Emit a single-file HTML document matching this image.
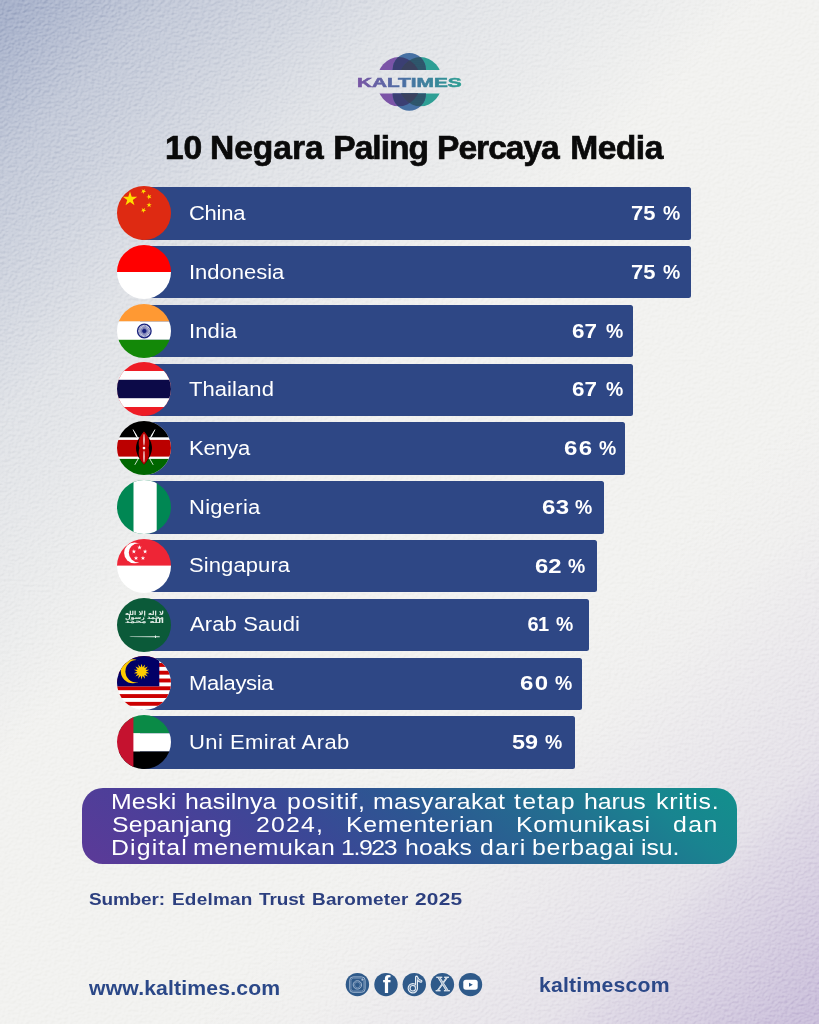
<!DOCTYPE html><html lang="id"><head><meta charset="utf-8"><title>10 Negara Paling Percaya Media</title><style>
html,body{margin:0;padding:0}
body{width:819px;height:1024px;position:relative;overflow:hidden;background:#f2f2f0;font-family:"Liberation Sans",sans-serif;}
#bg{position:absolute;left:0;top:0;width:819px;height:1024px;
 background:
  linear-gradient(135deg, rgba(168,178,203,1) 14px, rgba(168,178,203,.62) 120px, rgba(168,178,203,.56) 152px, rgba(168,178,203,.40) 226px, rgba(168,178,203,.24) 297px, rgba(168,178,203,.14) 396px, rgba(168,178,203,0) 540px),
  linear-gradient(315deg, rgba(203,192,219,1) 14px, rgba(203,192,219,.5) 158px, rgba(203,192,219,.35) 186px, rgba(203,192,219,.31) 200px, rgba(203,192,219,.05) 370px, rgba(203,192,219,0) 450px);
}
.bar{position:absolute;left:140px;height:52.4px;background:#2e4785;border-radius:2.5px;}
#note{position:absolute;left:82px;top:788px;width:655px;height:76.2px;border-radius:21px;
 background:linear-gradient(38deg,#5c3a98 0%,#4c3f99 18%,#3a4896 36%,#2d5692 52%,#246c90 70%,#198490 86%,#12908c 100%);}
svg{position:absolute;overflow:visible}
#title span{-webkit-text-stroke:.7px #0a0a0a}
h1,p,div{margin:0;padding:0;font-weight:normal;font-size:inherit}
</style></head><body>
<div id="bg"></div>
<svg id="tex" width="819" height="1024" style="left:0;top:0;mix-blend-mode:soft-light;opacity:.38" aria-hidden="true"><filter id="paper" x="0" y="0" width="100%" height="100%" color-interpolation-filters="sRGB"><feTurbulence type="fractalNoise" baseFrequency="0.3 0.36" numOctaves="3" seed="7" result="n"/><feDiffuseLighting in="n" lighting-color="#ffffff" surfaceScale="1.3" diffuseConstant="1"><feDistantLight azimuth="235" elevation="30"/></feDiffuseLighting></filter><rect width="819" height="1024" filter="url(#paper)"/></svg>
<svg style="left:340px;top:40px" width="140" height="85" viewBox="340 40 140 85"><defs><clipPath id="lgband"><rect x="340" y="40" width="140" height="30"/><rect x="340" y="93.4" width="140" height="32"/></clipPath><clipPath id="lgP"><ellipse cx="398.8" cy="81.7" rx="22" ry="24.6"/></clipPath><clipPath id="lgT"><ellipse cx="420.4" cy="81.7" rx="22" ry="24.6"/></clipPath><linearGradient id="lgG" x1="-35" y1="0" x2="35" y2="0" gradientUnits="userSpaceOnUse"><stop offset="0" stop-color="#7a55a5"/><stop offset=".45" stop-color="#4a6fa3"/><stop offset="1" stop-color="#2a9f92"/></linearGradient><pattern id="lgdots" x="0" y="0" width="2" height="2" patternUnits="userSpaceOnUse"><rect width="2" height="2" fill="#2b4a66"/><circle cx="1" cy="1" r=".45" fill="#3fae8f"/></pattern></defs><g clip-path="url(#lgband)"><ellipse cx="398.8" cy="81.7" rx="22" ry="24.6" fill="#7b54a7"/><ellipse cx="420.4" cy="81.7" rx="22" ry="24.6" fill="#2e9f95"/><g clip-path="url(#lgP)"><ellipse cx="420.4" cy="81.7" rx="22" ry="24.6" fill="#3c4263"/></g><rect x="392.6" y="52.9" width="33.4" height="57.8" rx="16.7" fill="#4670a3"/><g clip-path="url(#lgP)"><rect x="392.6" y="52.9" width="33.4" height="57.8" rx="16.7" fill="#3b3f73"/></g><g clip-path="url(#lgT)"><rect x="392.6" y="52.9" width="33.4" height="57.8" rx="16.7" fill="url(#lgdots)"/></g><g clip-path="url(#lgP)"><g clip-path="url(#lgT)"><rect x="392.6" y="52.9" width="33.4" height="57.8" rx="16.7" fill="#3a415e"/></g></g></g><text x="0" y="0" transform="translate(409.3 86.6) scale(1.53 1)" text-anchor="middle" font-family="Liberation Sans, sans-serif" font-weight="bold" font-size="13.6" fill="url(#lgG)" stroke="url(#lgG)" stroke-width=".55">KALTIMES</text></svg>
<h1 id="title"><span style="position:absolute;left:164.95px;top:127.76px;font-size:33.6px;line-height:40px;letter-spacing:-0.200px;white-space:pre;color:#0a0a0a;font-weight:bold;">10</span> <span style="position:absolute;left:209.95px;top:127.76px;font-size:33.6px;line-height:40px;letter-spacing:-0.020px;white-space:pre;color:#0a0a0a;font-weight:bold;">Negara</span> <span style="position:absolute;left:333.25px;top:127.76px;font-size:33.6px;line-height:40px;letter-spacing:-0.980px;white-space:pre;color:#0a0a0a;font-weight:bold;">Paling</span> <span style="position:absolute;left:437.05px;top:127.76px;font-size:33.6px;line-height:40px;letter-spacing:-1.017px;white-space:pre;color:#0a0a0a;font-weight:bold;">Percaya</span> <span style="position:absolute;left:570.15px;top:127.76px;font-size:33.6px;line-height:40px;letter-spacing:-0.475px;white-space:pre;color:#0a0a0a;font-weight:bold;">Media</span></h1>
<div class="bar" style="top:187.30px;width:551.0px"></div>
<div class="row"><span style="position:absolute;left:188.50px;top:201.27px;font-size:20px;line-height:24px;letter-spacing:-0.250px;white-space:pre;color:#ffffff;display:inline-block;transform:scaleX(1.100);transform-origin:0 50%;">China</span> <span style="position:absolute;left:631.10px;top:201.37px;font-size:20px;line-height:24px;letter-spacing:0.000px;white-space:pre;color:#ffffff;font-weight:bold;display:inline-block;transform:scaleX(1.100);transform-origin:0 50%;">75</span> <span style="position:absolute;left:663.31px;top:201.37px;font-size:20px;line-height:24px;letter-spacing:0.000px;white-space:pre;color:#ffffff;font-weight:bold;display:inline-block;transform:scaleX(0.970);transform-origin:0 50%;">%</span></div>
<div class="bar" style="top:246.08px;width:551.0px"></div>
<div class="row"><span style="position:absolute;left:188.80px;top:259.97px;font-size:20px;line-height:24px;letter-spacing:-0.011px;white-space:pre;color:#ffffff;display:inline-block;transform:scaleX(1.100);transform-origin:0 50%;">Indonesia</span> <span style="position:absolute;left:631.10px;top:260.07px;font-size:20px;line-height:24px;letter-spacing:0.000px;white-space:pre;color:#ffffff;font-weight:bold;display:inline-block;transform:scaleX(1.100);transform-origin:0 50%;">75</span> <span style="position:absolute;left:663.31px;top:260.07px;font-size:20px;line-height:24px;letter-spacing:0.000px;white-space:pre;color:#ffffff;font-weight:bold;display:inline-block;transform:scaleX(0.970);transform-origin:0 50%;">%</span></div>
<div class="bar" style="top:304.86px;width:492.8px"></div>
<div class="row"><span style="position:absolute;left:188.80px;top:318.67px;font-size:20px;line-height:24px;letter-spacing:0.091px;white-space:pre;color:#ffffff;display:inline-block;transform:scaleX(1.100);transform-origin:0 50%;">India</span> <span style="position:absolute;left:572.18px;top:318.77px;font-size:20px;line-height:24px;letter-spacing:0.000px;white-space:pre;color:#ffffff;font-weight:bold;display:inline-block;transform:scaleX(1.120);transform-origin:0 50%;">67</span> <span style="position:absolute;left:605.75px;top:318.77px;font-size:20px;line-height:24px;letter-spacing:0.000px;white-space:pre;color:#ffffff;font-weight:bold;display:inline-block;transform:scaleX(0.970);transform-origin:0 50%;">%</span></div>
<div class="bar" style="top:363.64px;width:492.8px"></div>
<div class="row"><span style="position:absolute;left:189.40px;top:377.37px;font-size:20px;line-height:24px;letter-spacing:0.065px;white-space:pre;color:#ffffff;display:inline-block;transform:scaleX(1.100);transform-origin:0 50%;">Thailand</span> <span style="position:absolute;left:572.18px;top:377.47px;font-size:20px;line-height:24px;letter-spacing:0.000px;white-space:pre;color:#ffffff;font-weight:bold;display:inline-block;transform:scaleX(1.120);transform-origin:0 50%;">67</span> <span style="position:absolute;left:605.75px;top:377.47px;font-size:20px;line-height:24px;letter-spacing:0.000px;white-space:pre;color:#ffffff;font-weight:bold;display:inline-block;transform:scaleX(0.970);transform-origin:0 50%;">%</span></div>
<div class="bar" style="top:422.42px;width:485.4px"></div>
<div class="row"><span style="position:absolute;left:188.80px;top:436.07px;font-size:20px;line-height:24px;letter-spacing:-0.250px;white-space:pre;color:#ffffff;display:inline-block;transform:scaleX(1.100);transform-origin:0 50%;">Kenya</span> <span style="position:absolute;left:564.20px;top:436.17px;font-size:20px;line-height:24px;letter-spacing:1.167px;white-space:pre;color:#ffffff;font-weight:bold;display:inline-block;transform:scaleX(1.200);transform-origin:0 50%;">66</span> <span style="position:absolute;left:598.50px;top:436.17px;font-size:20px;line-height:24px;letter-spacing:0.000px;white-space:pre;color:#ffffff;font-weight:bold;display:inline-block;transform:scaleX(0.970);transform-origin:0 50%;">%</span></div>
<div class="bar" style="top:481.20px;width:463.5px"></div>
<div class="row"><span style="position:absolute;left:188.80px;top:494.77px;font-size:20px;line-height:24px;letter-spacing:0.242px;white-space:pre;color:#ffffff;display:inline-block;transform:scaleX(1.100);transform-origin:0 50%;">Nigeria</span> <span style="position:absolute;left:541.80px;top:494.87px;font-size:20px;line-height:24px;letter-spacing:0.333px;white-space:pre;color:#ffffff;font-weight:bold;display:inline-block;transform:scaleX(1.200);transform-origin:0 50%;">63</span> <span style="position:absolute;left:575.46px;top:494.87px;font-size:20px;line-height:24px;letter-spacing:0.000px;white-space:pre;color:#ffffff;font-weight:bold;display:inline-block;transform:scaleX(0.970);transform-origin:0 50%;">%</span></div>
<div class="bar" style="top:539.98px;width:456.6px"></div>
<div class="row"><span style="position:absolute;left:188.50px;top:553.47px;font-size:20px;line-height:24px;letter-spacing:0.091px;white-space:pre;color:#ffffff;display:inline-block;transform:scaleX(1.100);transform-origin:0 50%;">Singapura</span> <span style="position:absolute;left:535.11px;top:553.57px;font-size:20px;line-height:24px;letter-spacing:0.000px;white-space:pre;color:#ffffff;font-weight:bold;display:inline-block;transform:scaleX(1.190);transform-origin:0 50%;">62</span> <span style="position:absolute;left:568.15px;top:553.57px;font-size:20px;line-height:24px;letter-spacing:0.000px;white-space:pre;color:#ffffff;font-weight:bold;display:inline-block;transform:scaleX(0.970);transform-origin:0 50%;">%</span></div>
<div class="bar" style="top:598.76px;width:449.0px"></div>
<div class="row"><span style="position:absolute;left:189.60px;top:612.17px;font-size:20px;line-height:24px;letter-spacing:0.111px;white-space:pre;color:#ffffff;display:inline-block;transform:scaleX(1.100);transform-origin:0 50%;">Arab Saudi</span> <span style="position:absolute;left:527.40px;top:612.27px;font-size:20px;line-height:24px;letter-spacing:-0.600px;white-space:pre;color:#ffffff;font-weight:bold;">61</span> <span style="position:absolute;left:556.46px;top:612.27px;font-size:20px;line-height:24px;letter-spacing:0.000px;white-space:pre;color:#ffffff;font-weight:bold;display:inline-block;transform:scaleX(0.970);transform-origin:0 50%;">%</span></div>
<div class="bar" style="top:657.54px;width:441.9px"></div>
<div class="row"><span style="position:absolute;left:188.80px;top:670.87px;font-size:20px;line-height:24px;letter-spacing:-0.286px;white-space:pre;color:#ffffff;display:inline-block;transform:scaleX(1.100);transform-origin:0 50%;">Malaysia</span> <span style="position:absolute;left:519.60px;top:670.97px;font-size:20px;line-height:24px;letter-spacing:1.167px;white-space:pre;color:#ffffff;font-weight:bold;display:inline-block;transform:scaleX(1.200);transform-origin:0 50%;">60</span> <span style="position:absolute;left:555.25px;top:670.97px;font-size:20px;line-height:24px;letter-spacing:0.000px;white-space:pre;color:#ffffff;font-weight:bold;display:inline-block;transform:scaleX(0.970);transform-origin:0 50%;">%</span></div>
<div class="bar" style="top:716.32px;width:434.9px"></div>
<div class="row"><span style="position:absolute;left:188.80px;top:729.57px;font-size:20px;line-height:24px;letter-spacing:0.409px;white-space:pre;color:#ffffff;display:inline-block;transform:scaleX(1.100);transform-origin:0 50%;">Uni Emirat Arab</span> <span style="position:absolute;left:512.23px;top:729.67px;font-size:20px;line-height:24px;letter-spacing:0.000px;white-space:pre;color:#ffffff;font-weight:bold;display:inline-block;transform:scaleX(1.170);transform-origin:0 50%;">59</span> <span style="position:absolute;left:545.46px;top:729.67px;font-size:20px;line-height:24px;letter-spacing:0.000px;white-space:pre;color:#ffffff;font-weight:bold;display:inline-block;transform:scaleX(0.970);transform-origin:0 50%;">%</span></div>
<svg style="left:117.00px;top:185.90px" width="54.0" height="54.0" viewBox="-27 -27 54 54"><defs><clipPath id="c0"><circle cx="0" cy="0" r="27"/></clipPath></defs><g clip-path="url(#c0)"><rect x="-27" y="-27" width="54" height="54" fill="#de2a12"/><polygon points="-14.00,-21.60 -12.29,-16.35 -6.77,-16.35 -11.24,-13.10 -9.53,-7.85 -14.00,-11.10 -18.47,-7.85 -16.76,-13.10 -21.23,-16.35 -15.71,-16.35" fill="#ffde00"/><polygon points="0.90,-24.12 0.48,-22.14 2.24,-21.12 0.22,-20.91 -0.21,-18.92 -1.03,-20.77 -3.06,-20.56 -1.55,-21.92 -2.37,-23.78 -0.61,-22.76" fill="#ffde00"/><polygon points="7.24,-18.10 6.17,-16.37 7.47,-14.82 5.50,-15.31 4.42,-13.58 4.28,-15.61 2.31,-16.10 4.19,-16.87 4.05,-18.90 5.36,-17.34" fill="#ffde00"/><polygon points="5.10,-10.80 5.73,-8.87 7.76,-8.87 6.12,-7.67 6.75,-5.73 5.10,-6.93 3.45,-5.73 4.08,-7.67 2.44,-8.87 4.47,-8.87" fill="#ffde00"/><polygon points="0.90,-5.22 0.48,-3.24 2.24,-2.22 0.22,-2.01 -0.21,-0.02 -1.03,-1.87 -3.06,-1.66 -1.55,-3.02 -2.37,-4.88 -0.61,-3.86" fill="#ffde00"/></g></svg>
<svg style="left:117.00px;top:244.70px" width="54.0" height="54.0" viewBox="-27 -27 54 54"><defs><clipPath id="c1"><circle cx="0" cy="0" r="27"/></clipPath></defs><g clip-path="url(#c1)"><rect x="-27" y="-27" width="54" height="27" fill="#ff0000"/><rect x="-27" y="0" width="54" height="27" fill="#ffffff"/></g></svg>
<svg style="left:117.00px;top:303.50px" width="54.0" height="54.0" viewBox="-27 -27 54 54"><defs><clipPath id="c2"><circle cx="0" cy="0" r="27"/></clipPath></defs><g clip-path="url(#c2)"><rect x="-27" y="-27" width="54" height="17.5" fill="#ff9933"/><rect x="-27" y="-9.5" width="54" height="18.3" fill="#ffffff"/><rect x="-27" y="8.8" width="54" height="18.2" fill="#138808"/><circle cx="0.3" cy="0" r="6.8" fill="none" stroke="#1a237e" stroke-width="1.3"/><circle cx="0.3" cy="0" r="2" fill="#1a237e"/><line x1="-6.20" y1="-0.00" x2="6.80" y2="0.00" stroke="#1a237e" stroke-width=".55"/><line x1="-5.98" y1="-1.68" x2="6.58" y2="1.68" stroke="#1a237e" stroke-width=".55"/><line x1="-5.33" y1="-3.25" x2="5.93" y2="3.25" stroke="#1a237e" stroke-width=".55"/><line x1="-4.30" y1="-4.60" x2="4.90" y2="4.60" stroke="#1a237e" stroke-width=".55"/><line x1="-2.95" y1="-5.63" x2="3.55" y2="5.63" stroke="#1a237e" stroke-width=".55"/><line x1="-1.38" y1="-6.28" x2="1.98" y2="6.28" stroke="#1a237e" stroke-width=".55"/><line x1="0.30" y1="-6.50" x2="0.30" y2="6.50" stroke="#1a237e" stroke-width=".55"/><line x1="1.98" y1="-6.28" x2="-1.38" y2="6.28" stroke="#1a237e" stroke-width=".55"/><line x1="3.55" y1="-5.63" x2="-2.95" y2="5.63" stroke="#1a237e" stroke-width=".55"/><line x1="4.90" y1="-4.60" x2="-4.30" y2="4.60" stroke="#1a237e" stroke-width=".55"/><line x1="5.93" y1="-3.25" x2="-5.33" y2="3.25" stroke="#1a237e" stroke-width=".55"/><line x1="6.58" y1="-1.68" x2="-5.98" y2="1.68" stroke="#1a237e" stroke-width=".55"/></g></svg>
<svg style="left:117.00px;top:362.30px" width="54.0" height="54.0" viewBox="-27 -27 54 54"><defs><clipPath id="c3"><circle cx="0" cy="0" r="27"/></clipPath></defs><g clip-path="url(#c3)"><rect x="-27" y="-27" width="54" height="54" fill="#ee1c25"/><rect x="-27" y="-18" width="54" height="36" fill="#ffffff"/><rect x="-27" y="-9.2" width="54" height="18.4" fill="#0c0a48"/></g></svg>
<svg style="left:117.00px;top:421.10px" width="54.0" height="54.0" viewBox="-27 -27 54 54"><defs><clipPath id="c4"><circle cx="0" cy="0" r="27"/></clipPath></defs><g clip-path="url(#c4)"><rect x="-27" y="-27" width="54" height="54" fill="#ffffff"/><rect x="-27" y="-27" width="54" height="16.3" fill="#000000"/><rect x="-27" y="-8.1" width="54" height="16.7" fill="#bb0000"/><rect x="-27" y="10.9" width="54" height="17" fill="#006600"/><line x1="-11" y1="-18.4" x2="9.2" y2="16.8" stroke="#ffffff" stroke-width=".8"/><line x1="11" y1="-18.4" x2="-9.2" y2="16.8" stroke="#ffffff" stroke-width=".8"/><path d="M-11.3,-18.9 L-6.6,-11.8 L-7.8,-11.1 Z" fill="#fff"/><path d="M11.3,-18.9 L6.6,-11.8 L7.8,-11.1 Z" fill="#fff"/><path d="M0,-16.5 C5.5,-11 8,-4.5 8,0 C8,4.5 5.5,11 0,16.5 C-5.5,11 -8,4.5 -8,0 C-8,-4.5 -5.5,-11 0,-16.5Z" fill="#000000"/><path d="M0,-16.5 C6.5,-10 5.6,-4 4.6,0 C5.6,4 6.5,10 0,16.5 C-6.5,10 -5.6,4 -4.6,0 C-5.6,-4 -6.5,-10 0,-16.5Z" fill="#bb0000"/><circle cx="0" cy="0.1" r="1.35" fill="#fff"/><ellipse cx="0" cy="-8.3" rx=".75" ry="6" fill="#fff" opacity=".85"/><ellipse cx="0" cy="8.5" rx=".75" ry="6" fill="#fff" opacity=".85"/></g></svg>
<svg style="left:117.00px;top:479.90px" width="54.0" height="54.0" viewBox="-27 -27 54 54"><defs><clipPath id="c5"><circle cx="0" cy="0" r="27"/></clipPath></defs><g clip-path="url(#c5)"><rect x="-27" y="-27" width="54" height="54" fill="#008753"/><rect x="-10.5" y="-27" width="23.2" height="54" fill="#ffffff"/></g></svg>
<svg style="left:117.00px;top:538.70px" width="54.0" height="54.0" viewBox="-27 -27 54 54"><defs><clipPath id="c6"><circle cx="0" cy="0" r="27"/></clipPath></defs><g clip-path="url(#c6)"><rect x="-27" y="-27" width="54" height="27" fill="#ee2536"/><rect x="-27" y="-0.4" width="54" height="27.4" fill="#ffffff"/><circle cx="-9.5" cy="-13.2" r="10.4" fill="#fff"/><circle cx="-5.6" cy="-13.2" r="9.6" fill="#ee2536"/><polygon points="-4.50,-20.90 -3.96,-19.24 -2.22,-19.24 -3.63,-18.22 -3.09,-16.56 -4.50,-17.58 -5.91,-16.56 -5.37,-18.22 -6.78,-19.24 -5.04,-19.24" fill="#fff"/><polygon points="1.11,-16.82 1.65,-15.16 3.39,-15.16 1.98,-14.14 2.52,-12.48 1.11,-13.51 -0.30,-12.48 0.24,-14.14 -1.17,-15.16 0.57,-15.16" fill="#fff"/><polygon points="-1.03,-10.23 -0.49,-8.57 1.25,-8.57 -0.16,-7.54 0.38,-5.89 -1.03,-6.91 -2.44,-5.89 -1.90,-7.54 -3.31,-8.57 -1.57,-8.57" fill="#fff"/><polygon points="-7.97,-10.23 -7.43,-8.57 -5.69,-8.57 -7.10,-7.54 -6.56,-5.89 -7.97,-6.91 -9.38,-5.89 -8.84,-7.54 -10.25,-8.57 -8.51,-8.57" fill="#fff"/><polygon points="-10.11,-16.82 -9.57,-15.16 -7.83,-15.16 -9.24,-14.14 -8.70,-12.48 -10.11,-13.51 -11.52,-12.48 -10.98,-14.14 -12.39,-15.16 -10.65,-15.16" fill="#fff"/></g></svg>
<svg style="left:117.00px;top:597.50px" width="54.0" height="54.0" viewBox="-27 -27 54 54"><defs><clipPath id="c7"><circle cx="0" cy="0" r="27"/></clipPath></defs><g clip-path="url(#c7)"><rect x="-27" y="-27" width="54" height="54" fill="#0b5a39"/><text x="0.4" y="-9.6" font-family="DejaVu Sans, sans-serif" font-size="5.6" font-weight="bold" fill="#e6efe9" text-anchor="middle" textLength="39" lengthAdjust="spacingAndGlyphs">لا إله إلا الله</text><text x="0.4" y="-5.6" font-family="DejaVu Sans, sans-serif" font-size="5.6" font-weight="bold" fill="#e6efe9" text-anchor="middle" textLength="39" lengthAdjust="spacingAndGlyphs">محمد رسول</text><text x="0.4" y="-1.6" font-family="DejaVu Sans, sans-serif" font-size="5.6" font-weight="bold" fill="#e6efe9" text-anchor="middle" textLength="39" lengthAdjust="spacingAndGlyphs">الله محمد</text><path d="M-14.9,11.4 L11,11.3 L11,10.6 L12,10.6 L12,11.2 L15.7,11.2 L15.7,12.2 L12,12.2 L12,12.9 L11,12.9 L11,12.2 L-13,12.1 Z" fill="#e6efe9"/></g></svg>
<svg style="left:117.00px;top:656.30px" width="54.0" height="54.0" viewBox="-27 -27 54 54"><defs><clipPath id="c8"><circle cx="0" cy="0" r="27"/></clipPath></defs><g clip-path="url(#c8)"><rect x="-27" y="-28" width="54" height="56" fill="#ffffff"/><rect x="-27" y="-27.80" width="54" height="3.89" fill="#cc0001"/><rect x="-27" y="-20.02" width="54" height="3.89" fill="#cc0001"/><rect x="-27" y="-12.24" width="54" height="3.89" fill="#cc0001"/><rect x="-27" y="-4.46" width="54" height="3.89" fill="#cc0001"/><rect x="-27" y="3.32" width="54" height="3.89" fill="#cc0001"/><rect x="-27" y="11.10" width="54" height="3.89" fill="#cc0001"/><rect x="-27" y="18.88" width="54" height="3.89" fill="#cc0001"/><rect x="-27" y="-28" width="42.3" height="31.32" fill="#010066"/><circle cx="-11.2" cy="-11.7" r="12" fill="#ffcc00"/><circle cx="-7.4" cy="-11.7" r="11.2" fill="#010066"/><polygon points="-2.40,-19.35 -1.42,-15.74 1.03,-18.57 0.34,-14.89 3.78,-16.38 1.56,-13.36 5.30,-13.21 2.00,-11.45 5.30,-9.69 1.56,-9.54 3.78,-6.52 0.34,-8.01 1.03,-4.33 -1.42,-7.16 -2.40,-3.55 -3.38,-7.16 -5.83,-4.33 -5.14,-8.01 -8.58,-6.52 -6.36,-9.54 -10.10,-9.69 -6.80,-11.45 -10.10,-13.21 -6.36,-13.36 -8.58,-16.38 -5.14,-14.89 -5.83,-18.57 -3.38,-15.74" fill="#ffcc00"/></g></svg>
<svg style="left:117.00px;top:715.10px" width="54.0" height="54.0" viewBox="-27 -27 54 54"><defs><clipPath id="c9"><circle cx="0" cy="0" r="27"/></clipPath></defs><g clip-path="url(#c9)"><rect x="-27" y="-27" width="54" height="18.3" fill="#0a8a46"/><rect x="-27" y="-8.7" width="54" height="18.2" fill="#ffffff"/><rect x="-27" y="9.5" width="54" height="17.5" fill="#000000"/><rect x="-27" y="-27" width="16.4" height="54" fill="#c5122f"/></g></svg>
<div id="note"></div>
<p id="notetxt"><span style="position:absolute;left:110.94px;top:789.18px;font-size:22px;line-height:26px;letter-spacing:0.106px;white-space:pre;color:#ffffff;display:inline-block;transform:scaleX(1.130);transform-origin:0 50%;">Meski</span> <span style="position:absolute;left:184.67px;top:789.18px;font-size:22px;line-height:26px;letter-spacing:0.013px;white-space:pre;color:#ffffff;display:inline-block;transform:scaleX(1.130);transform-origin:0 50%;">hasilnya</span> <span style="position:absolute;left:287.07px;top:789.18px;font-size:22px;line-height:26px;letter-spacing:0.780px;white-space:pre;color:#ffffff;display:inline-block;transform:scaleX(1.130);transform-origin:0 50%;">positif,</span> <span style="position:absolute;left:373.27px;top:789.18px;font-size:22px;line-height:26px;letter-spacing:0.328px;white-space:pre;color:#ffffff;display:inline-block;transform:scaleX(1.130);transform-origin:0 50%;">masyarakat</span> <span style="position:absolute;left:514.40px;top:789.18px;font-size:22px;line-height:26px;letter-spacing:1.142px;white-space:pre;color:#ffffff;display:inline-block;transform:scaleX(1.130);transform-origin:0 50%;">tetap</span> <span style="position:absolute;left:584.37px;top:789.18px;font-size:22px;line-height:26px;letter-spacing:-0.086px;white-space:pre;color:#ffffff;display:inline-block;transform:scaleX(1.130);transform-origin:0 50%;">harus</span> <span style="position:absolute;left:655.57px;top:789.18px;font-size:22px;line-height:26px;letter-spacing:0.673px;white-space:pre;color:#ffffff;display:inline-block;transform:scaleX(1.130);transform-origin:0 50%;">kritis.</span>
<span style="position:absolute;left:112.07px;top:811.88px;font-size:22px;line-height:26px;letter-spacing:0.112px;white-space:pre;color:#ffffff;display:inline-block;transform:scaleX(1.130);transform-origin:0 50%;">Sepanjang</span> <span style="position:absolute;left:256.47px;top:811.88px;font-size:22px;line-height:26px;letter-spacing:1.027px;white-space:pre;color:#ffffff;display:inline-block;transform:scaleX(1.130);transform-origin:0 50%;">2024,</span> <span style="position:absolute;left:346.24px;top:811.88px;font-size:22px;line-height:26px;letter-spacing:0.564px;white-space:pre;color:#ffffff;display:inline-block;transform:scaleX(1.130);transform-origin:0 50%;">Kementerian</span> <span style="position:absolute;left:516.14px;top:811.88px;font-size:22px;line-height:26px;letter-spacing:0.541px;white-space:pre;color:#ffffff;display:inline-block;transform:scaleX(1.130);transform-origin:0 50%;">Komunikasi</span> <span style="position:absolute;left:673.37px;top:811.88px;font-size:22px;line-height:26px;letter-spacing:1.230px;white-space:pre;color:#ffffff;display:inline-block;transform:scaleX(1.130);transform-origin:0 50%;">dan</span>
<span style="position:absolute;left:110.94px;top:834.68px;font-size:22px;line-height:26px;letter-spacing:0.997px;white-space:pre;color:#ffffff;display:inline-block;transform:scaleX(1.130);transform-origin:0 50%;">Digital</span> <span style="position:absolute;left:192.77px;top:834.68px;font-size:22px;line-height:26px;letter-spacing:0.545px;white-space:pre;color:#ffffff;display:inline-block;transform:scaleX(1.130);transform-origin:0 50%;">menemukan</span> <span style="position:absolute;left:341.34px;top:834.68px;font-size:22px;line-height:26px;letter-spacing:-1.252px;white-space:pre;color:#ffffff;display:inline-block;transform:scaleX(1.130);transform-origin:0 50%;">1.923</span> <span style="position:absolute;left:405.07px;top:834.68px;font-size:22px;line-height:26px;letter-spacing:0.153px;white-space:pre;color:#ffffff;display:inline-block;transform:scaleX(1.130);transform-origin:0 50%;">hoaks</span> <span style="position:absolute;left:480.47px;top:834.68px;font-size:22px;line-height:26px;letter-spacing:1.115px;white-space:pre;color:#ffffff;display:inline-block;transform:scaleX(1.130);transform-origin:0 50%;">dari</span> <span style="position:absolute;left:532.47px;top:834.68px;font-size:22px;line-height:26px;letter-spacing:0.659px;white-space:pre;color:#ffffff;display:inline-block;transform:scaleX(1.130);transform-origin:0 50%;">berbagai</span> <span style="position:absolute;left:640.67px;top:834.68px;font-size:22px;line-height:26px;letter-spacing:-0.068px;white-space:pre;color:#ffffff;display:inline-block;transform:scaleX(1.130);transform-origin:0 50%;">isu.</span></p>
<p id="src"><span style="position:absolute;left:89.31px;top:889.47px;font-size:17.4px;line-height:21px;letter-spacing:-0.141px;white-space:pre;color:#2c3f7f;font-weight:bold;display:inline-block;transform:scaleX(1.090);transform-origin:0 50%;">Sumber:</span> <span style="position:absolute;left:172.31px;top:889.47px;font-size:17.4px;line-height:21px;letter-spacing:0.199px;white-space:pre;color:#2c3f7f;font-weight:bold;display:inline-block;transform:scaleX(1.090);transform-origin:0 50%;">Edelman</span> <span style="position:absolute;left:258.90px;top:889.47px;font-size:17.4px;line-height:21px;letter-spacing:-0.110px;white-space:pre;color:#2c3f7f;font-weight:bold;display:inline-block;transform:scaleX(1.090);transform-origin:0 50%;">Trust</span> <span style="position:absolute;left:311.61px;top:889.47px;font-size:17.4px;line-height:21px;letter-spacing:0.179px;white-space:pre;color:#2c3f7f;font-weight:bold;display:inline-block;transform:scaleX(1.090);transform-origin:0 50%;">Barometer</span> <span style="position:absolute;left:414.60px;top:889.47px;font-size:17.4px;line-height:21px;letter-spacing:0.222px;white-space:pre;color:#2c3f7f;font-weight:bold;display:inline-block;transform:scaleX(1.200);transform-origin:0 50%;">2025</span></p>
<div id="www"><span style="position:absolute;left:88.90px;top:975.87px;font-size:20px;line-height:24px;letter-spacing:0.143px;white-space:pre;color:#2b4888;font-weight:bold;display:inline-block;transform:scaleX(1.060);transform-origin:0 50%;">www.kaltimes.com</span></div>
<svg style="left:340px;top:968px" width="150" height="34" viewBox="340 968 150 34"><circle cx="357.4" cy="984.6" r="11.7" fill="#2f5a8a"/><circle cx="386.0" cy="984.6" r="11.7" fill="#2f5a8a"/><circle cx="414.3" cy="984.6" r="11.7" fill="#2f5a8a"/><circle cx="442.4" cy="984.6" r="11.7" fill="#2f5a8a"/><circle cx="470.5" cy="984.6" r="11.7" fill="#2f5a8a"/><g fill="none" stroke="#a9bdd6" stroke-width=".9"><rect x="349.7" y="976.9" width="15.4" height="15.4" rx="3.4"/><rect x="351.0" y="978.2" width="12.8" height="12.8" rx="2.4" stroke-width=".5"/><circle cx="357.4" cy="984.9" r="4.2"/><circle cx="357.4" cy="984.9" r="2.9" stroke-width=".5"/></g><circle cx="362.29999999999995" cy="979.7" r="1" fill="#a9bdd6"/><text x="386.6" y="992.6" text-anchor="middle" font-family="Liberation Sans, sans-serif" font-weight="bold" font-size="23" fill="#ffffff">f</text><g fill="none" stroke="#e8eef5" stroke-width="3" stroke-linecap="round" stroke-linejoin="round"><path d="M416.5,988.1 V977.0 C417.1,979.2 418.90000000000003,980.8000000000001 420.90000000000003,981.2"/><circle cx="412.8" cy="988.2" r="3.7"/></g><g fill="none" stroke="#2f5a8a" stroke-width=".9" stroke-linecap="round" stroke-linejoin="round" opacity=".8"><path d="M416.5,988.1 V977.0 C417.1,979.2 418.90000000000003,980.8000000000001 420.90000000000003,981.2"/><circle cx="412.8" cy="988.2" r="3.7"/></g><text x="442.7" y="991.0" text-anchor="middle" font-family="Liberation Serif, serif" font-size="20" fill="#ffffff" fill-opacity=".55" stroke="#ffffff" stroke-width=".5">X</text><rect x="463.3" y="979.7" width="14.4" height="10" rx="2.6" fill="#ffffff"/><path d="M469.0,982.7 L472.8,984.7 L469.0,986.7Z" fill="#2f5a8a"/></svg>
<div id="kal"><span style="position:absolute;left:539.04px;top:972.87px;font-size:20px;line-height:24px;letter-spacing:0.194px;white-space:pre;color:#2b4888;font-weight:bold;display:inline-block;transform:scaleX(1.060);transform-origin:0 50%;">kaltimescom</span></div>
</body></html>
